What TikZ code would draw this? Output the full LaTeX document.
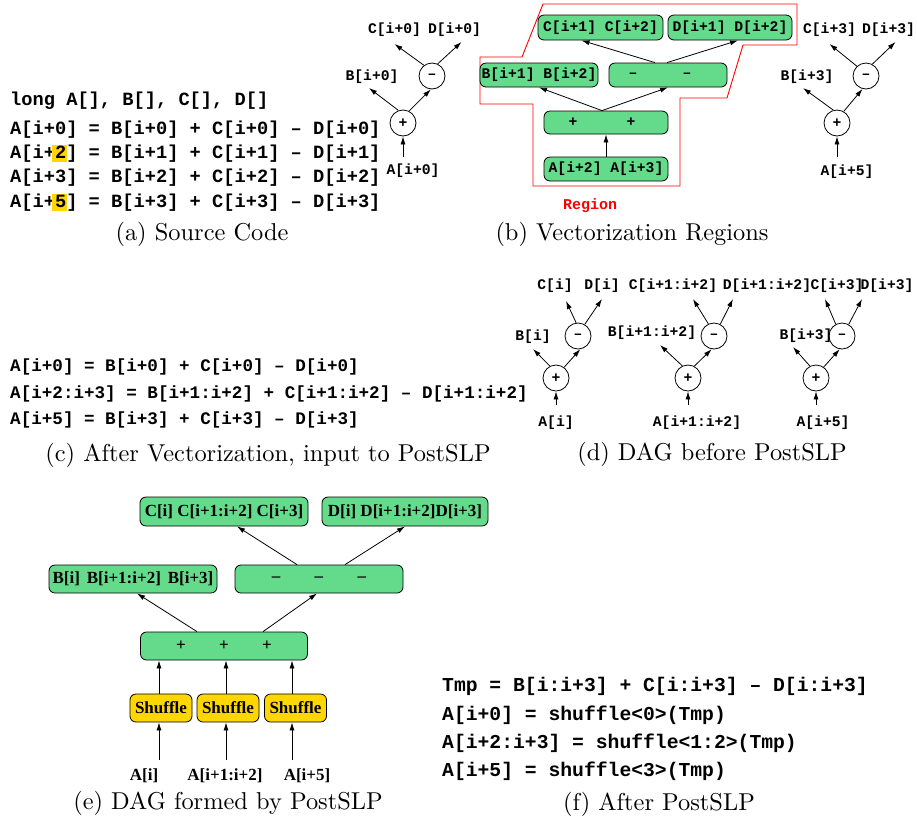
\documentclass[tikz,border=0pt]{standalone}
\usepackage{fontspec}
\usetikzlibrary{arrows.meta,calc}
\newfontfamily\monofam{Liberation Mono}
\newfontfamily\timesfam{Liberation Serif}
\newfontfamily\capfam{lmroman10-regular.otf}
\definecolor{vgreen}{RGB}{99,219,139}
\definecolor{hlgold}{RGB}{255,214,0}
\newcommand\codeA{\monofam\bfseries\fontsize{18.7pt}{20pt}\selectfont}
\newcommand\codeC{\monofam\bfseries\fontsize{17.6pt}{19pt}\selectfont}
\newcommand\codeF{\monofam\bfseries\fontsize{19.7pt}{21pt}\selectfont}
\newcommand\lblf{\monofam\bfseries\fontsize{14.7pt}{16pt}\selectfont}
\newcommand\regf{\monofam\bfseries\fontsize{15pt}{16pt}\selectfont}
\newcommand\dagf{\timesfam\bfseries\fontsize{17pt}{18pt}\selectfont}
\newcommand\capf{\capfam\fontsize{24.4pt}{26pt}\selectfont}
% highlighted character in the source listing
\newcommand\hlchar[1]{\rlap{\smash{\hspace{-0.16em}\textcolor{hlgold}{\rule[-0.19em]{0.8em}{0.91em}}}}#1}

\tikzset{
  code/.style={anchor=west, inner sep=0pt},
  lbl/.style={font=\lblf, inner sep=1pt},
  opc/.style={circle, draw, minimum size=26pt, inner sep=0pt, font=\lblf, line width=0.8pt},
  arr/.style={line width=0.8pt, -{Latex[length=8pt,width=5pt]}},
  vbox/.style={draw, rounded corners=6pt, fill=vgreen, line width=0.8pt, inner sep=0pt},
  mbox/.style={vbox, font=\lblf},
  tbox/.style={vbox, font=\dagf},
  shuf/.style={draw, rounded corners=6pt, fill=hlgold, line width=0.8pt, inner sep=0pt,
               font=\dagf, minimum width=62pt, minimum height=28pt},
  tlbl/.style={font=\dagf, inner sep=1pt},
  captxt/.style={font=\capf, inner sep=0pt},
}

\begin{document}
\begin{tikzpicture}[x=1pt,y=-1pt]
\useasboundingbox (0,0) rectangle (917,823);

% ---------- (a) source code ----------
\node[code, font=\codeA] (srcdecl) at (10,101) {long A[], B[], C[], D[]};
\node[code, font=\codeA] (src0) at (10,129.5) {A[i+0] = B[i+0] + C[i+0] – D[i+0]};
\node[code, font=\codeA] (src1) at (10,153.8) {A[i+\hlchar{2}] = B[i+1] + C[i+1] – D[i+1]};
\node[code, font=\codeA] (src2) at (10,178) {A[i+3] = B[i+2] + C[i+2] – D[i+2]};
\node[code, font=\codeA] (src3) at (10,202.3) {A[i+\hlchar{5}] = B[i+3] + C[i+3] – D[i+3]};

% scalar tree for A[i+0]
\node[opc] (aP) at (403,123) {+};
\node[opc] (aM) at (432,76) {–};
\node[lbl] (aA) at (413,171) {A[i+0]};
\node[lbl] (aB) at (372,77) {B[i+0]};
\node[lbl] (aC) at (394.5,30) {C[i+0]};
\node[lbl] (aD) at (454.5,30) {D[i+0]};
\coordinate (aAt) at (403,157);
\draw[arr] (aAt) -- (aP);
\draw[arr] (aP.110) -- ($(aB)+(-3,11)$);
\draw[arr] (aP.63) -- (aM.265);
\draw[arr] (aM.127) -- ($(aC)+(0,14)$);
\draw[arr] (aM.65) -- ($(aD)+(7,12)$);

\node[captxt] (capa) at (202,234) {(a) Source Code};

% ---------- (b) vectorization regions ----------
\draw[red, line width=0.9pt] (543,4) -- (797,4) -- (797,45) -- (743,45) -- (727,98)
  -- (680,98) -- (680,186) -- (533,186) -- (533,104) -- (480,104) -- (480,57)
  -- (522,57) -- cycle;

\node[mbox, minimum width=125pt, minimum height=25pt] (bC) at (600.5,27.5) {C[i+1] C[i+2]};
\node[mbox, minimum width=124pt, minimum height=25pt] (bD) at (730,27.5) {D[i+1] D[i+2]};
\node[mbox, minimum width=118pt, minimum height=24pt] (bB) at (539,75) {B[i+1] B[i+2]};
\node[mbox, minimum width=118pt, minimum height=24pt] (bM) at (668,75) {};
\node[lbl] (bM1) at (633,75) {–};
\node[lbl] (bM2) at (687,75) {–};
\node[mbox, minimum width=124pt, minimum height=23pt] (bP) at (606,122.5) {};
\node[lbl] (bP1) at (573,122.5) {+};
\node[lbl] (bP2) at (631,122.5) {+};
\node[mbox, minimum width=124pt, minimum height=24pt] (bA) at (606,169) {A[i+2] A[i+3]};

\draw[arr] (bA) -- (bP);
\draw[arr] ([xshift=-4pt]bP.north) -- (bB.south);
\draw[arr] ([xshift=-4pt]bP.north) -- (bM.south);
\draw[arr] ([xshift=-13pt]bM.north) -- ([xshift=-19pt]bC.south);
\draw[arr] ([xshift=-1pt]bM.north) -- ([xshift=8pt]bD.south);

\node[font=\regf, text=red, inner sep=0pt] (regl) at (590,206) {Region};

% scalar tree for A[i+5]
\node[opc] (rP) at (837,123) {+};
\node[opc] (rM) at (866,76) {–};
\node[lbl] (rA) at (847,172) {A[i+5]};
\node[lbl] (rB) at (807,77) {B[i+3]};
\node[lbl] (rC) at (829.5,30) {C[i+3]};
\node[lbl] (rD) at (888.5,30) {D[i+3]};
\coordinate (rAt) at (837,157);
\draw[arr] (rAt) -- (rP);
\draw[arr] (rP.106) -- ($(rB)+(-4,11)$);
\draw[arr] (rP.60) -- (rM.255);
\draw[arr] (rM.133) -- ($(rC)+(0,14)$);
\draw[arr] (rM.62) -- ($(rD)+(7,12)$);

\node[captxt] (capb) at (632,234) {(b) Vectorization Regions};

% ---------- (c) after vectorization ----------
\node[code, font=\codeC] (vec0) at (10,367) {A[i+0] = B[i+0] + C[i+0] – D[i+0]};
\node[code, font=\codeC] (vec1) at (10,393.5) {A[i+2:i+3] = B[i+1:i+2] + C[i+1:i+2] – D[i+1:i+2]};
\node[code, font=\codeC] (vec2) at (10,420) {A[i+5] = B[i+3] + C[i+3] – D[i+3]};

\node[captxt] (capc) at (268,455) {(c) After Vectorization, input to PostSLP};

% ---------- (d) DAG before PostSLP ----------
\node[opc] (dP1) at (556,378) {+};
\node[opc] (dM1) at (578,336) {–};
\node[lbl] (dA1) at (556,423) {A[i]};
\node[lbl] (dB1) at (533,337) {B[i]};
\node[lbl] (dC1) at (555,286) {C[i]};
\node[lbl] (dD1) at (602,286) {D[i]};
\coordinate (dAt1) at (556,405);
\draw[arr] (dAt1) -- (dP1);
\draw[arr] (dP1.117) -- ($(dB1)+(0,12)$);
\draw[arr] (dP1.53) -- (dM1.280);
\draw[arr] (dM1.98) -- ($(dC1)+(11,15)$);
\draw[arr] (dM1.60) -- ($(dD1)+(0,13)$);

\node[opc] (dP2) at (688,378) {+};
\node[opc] (dM2) at (714,336) {–};
\node[lbl] (dA2) at (697,423) {A[i+1:i+2]};
\node[lbl] (dB2) at (652,333) {B[i+1:i+2]};
\node[lbl] (dC2) at (673,286) {C[i+1:i+2]};
\node[lbl] (dD2) at (767,286) {D[i+1:i+2]};
\coordinate (dAt2) at (688,405);
\draw[arr] (dAt2) -- (dP2);
\draw[arr] (dP2.115) -- ($(dB2)+(8,12)$);
\draw[arr] (dP2.62) -- (dM2.260);
\draw[arr] (dM2.115) -- ($(dC2)+(20,13)$);
\draw[arr] (dM2.62) -- ($(dD2)+(-34,13)$);

\node[opc] (dP3) at (816,378) {+};
\node[opc] (dM3) at (842,336) {–};
\node[lbl] (dA3) at (823,423) {A[i+5]};
\node[lbl] (dB3) at (806,336) {B[i+3]};
\node[lbl] (dC3) at (837,286) {C[i+3]};
\node[lbl] (dD3) at (887,286) {D[i+3]};
\coordinate (dAt3) at (816,405);
\draw[arr] (dAt3) -- (dP3);
\draw[arr] (dP3.117) -- ($(dB3)+(-13,11)$);
\draw[arr] (dP3.55) -- (dM3.260);
\draw[arr] (dM3.118) -- ($(dC3)+(-12,13)$);
\draw[arr] (dM3.60) -- ($(dD3)+(-25,13)$);

\node[captxt] (capd) at (712,454) {(d) DAG before PostSLP};

% ---------- (e) DAG formed by PostSLP ----------
\node[tbox, minimum width=168pt, minimum height=29pt] (eC) at (224,511.5) {C[i] C[i+1:i+2] C[i+3]};
\node[tbox, minimum width=166pt, minimum height=29pt] (eD) at (405,511.5) {D[i] D[i+1:i+2]D[i+3]};
\node[tbox, minimum width=168pt, minimum height=28pt] (eB) at (133,579) {B[i]\hspace{0.4em}B[i+1:i+2]\hspace{0.4em}B[i+3]};
\node[tbox, minimum width=168pt, minimum height=28pt] (eM) at (319,579) {–\hspace{34.5pt}–\hspace{34.5pt}–};
\node[tbox, minimum width=167pt, minimum height=28pt] (eP) at (224,646) {+\hspace{33.3pt}+\hspace{33.3pt}+};
\node[shuf] (es1) at (161,708) {Shuffle};
\node[shuf] (es2) at (228,708) {Shuffle};
\node[shuf] (es3) at (295.5,708) {Shuffle};
\node[tlbl] (eA1) at (144,776) {A[i]};
\node[tlbl] (eA2) at (225,776) {A[i+1:i+2]};
\node[tlbl] (eA3) at (307,776) {A[i+5]};
\coordinate (et1) at (159,760);
\coordinate (et2) at (226,760);
\coordinate (et3) at (292,760);
\draw[arr] (et1) -- (et1 |- es1.south);
\draw[arr] (et2) -- (et2 |- es2.south);
\draw[arr] (et3) -- (et3 |- es3.south);
\draw[arr] (et1 |- es1.north) -- (et1 |- eP.south);
\draw[arr] (et2 |- es2.north) -- (et2 |- eP.south);
\draw[arr] (et3 |- es3.north) -- (et3 |- eP.south);
\draw[arr] ([xshift=-27pt]eP.north) -- ([xshift=4pt]eB.south);
\draw[arr] ([xshift=39pt]eP.north) -- ([xshift=-2pt]eM.south);
\draw[arr] ([xshift=-22pt]eM.north) -- ([xshift=13pt]eC.south);
\draw[arr] ([xshift=26pt]eM.north) -- (eD.south);

\node[captxt] (cape) at (228,803) {(e) DAG formed by PostSLP};

% ---------- (f) after PostSLP ----------
\node[code, font=\codeF] (post0) at (442,686) {Tmp = B[i:i+3] + C[i:i+3] – D[i:i+3]};
\node[code, font=\codeF] (post1) at (442,715) {A[i+0] = shuffle<0>(Tmp)};
\node[code, font=\codeF] (post2) at (442,743) {A[i+2:i+3] = shuffle<1:2>(Tmp)};
\node[code, font=\codeF] (post3) at (442,771) {A[i+5] = shuffle<3>(Tmp)};

\node[captxt] (capf) at (659,804) {(f) After PostSLP};
\end{tikzpicture}
\end{document}
